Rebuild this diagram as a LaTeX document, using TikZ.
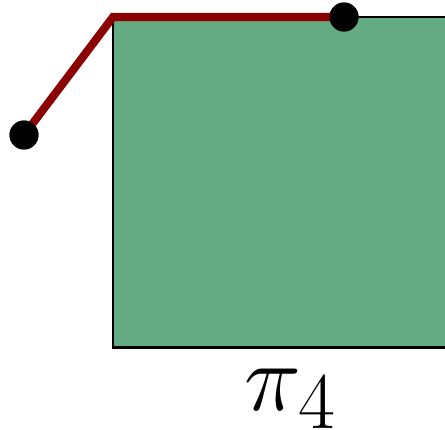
\documentclass[tikz,border=0pt]{standalone}
\usepackage{graphicx}
\usepackage{tikz}
\usetikzlibrary{positioning}
\definecolor{cellgreen}{RGB}{100,170,130}
\definecolor{pathred}{RGB}{139,0,0}
\tikzset{
  cell/.style={fill=cellgreen, draw=black, line width=1.7pt},
  walk/.style={draw=pathred, line width=4.6pt, line join=miter},
  dot/.style={circle, fill=black, inner sep=0pt, minimum size=0.58cm},
  lbl/.style={inner sep=0pt}
}
\begin{document}
\begin{tikzpicture}[x=0.02cm, y=-0.02cm]
  \clip (0,0) rectangle (445,429);
  \draw[cell] (113,17) rectangle (470,347);
  \coordinate (bend) at (113,17);
  \node[dot] (start) at (24,135) {};
  \node[dot] (stop) at (344,17) {};
  \draw[walk] (start.center) -- (bend) -- (stop.center);
  \node[dot] at (start) {};
  \node[dot] at (stop) {};
  \node[lbl, anchor=base] (name) at (291,410) {\scalebox{2.2}{\Huge$\pi_4$}};
\end{tikzpicture}
\end{document}
